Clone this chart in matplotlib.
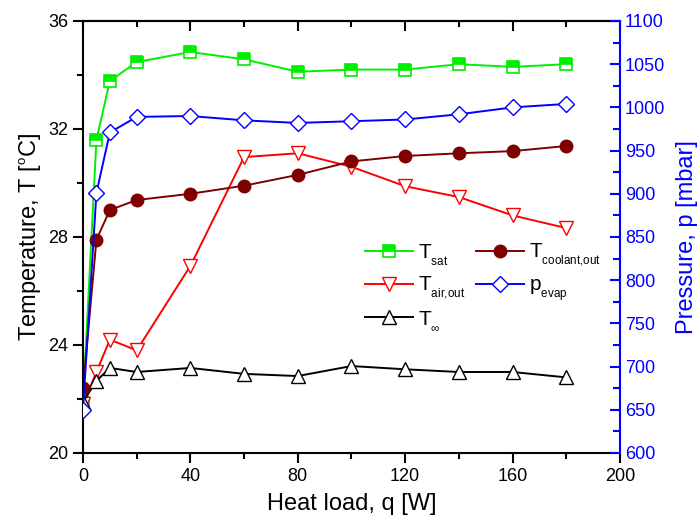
import matplotlib
matplotlib.use("Agg")
import matplotlib.pyplot as plt
from matplotlib.ticker import MultipleLocator, NullFormatter
try:
    import matplotlib._mathtext as _mt
    _mt.SHRINK_FACTOR = 0.56
    _mt.FontConstantsBase.sub1 = 0.7
except Exception:
    pass

plt.rcParams['font.family'] = ['Liberation Sans', 'DejaVu Sans']
plt.rcParams['mathtext.fontset'] = 'custom'
plt.rcParams['mathtext.rm'] = 'Liberation Sans'
plt.rcParams['mathtext.it'] = 'Liberation Sans'
plt.rcParams['mathtext.bf'] = 'Liberation Sans:bold'

q = [0, 5, 10, 20, 40, 60, 80, 100, 120, 140, 160, 180]
T_sat = [21.9, 31.6, 33.78, 34.48, 34.85, 34.58, 34.12, 34.2, 34.2, 34.4, 34.3, 34.4]
T_coolant = [22.4, 27.9, 29.0, 29.37, 29.6, 29.9, 30.3, 30.8, 31.0, 31.1, 31.18, 31.37]
T_air = [21.8, 23.0, 24.2, 23.8, 26.93, 30.96, 31.1, 30.6, 29.88, 29.48, 28.8, 28.33]
T_inf = [21.9, 22.67, 23.15, 23.0, 23.15, 22.93, 22.85, 23.22, 23.1, 23.0, 23.0, 22.8]
p_evap = [650, 901, 971, 989, 990, 985, 982, 984, 986, 992, 1000, 1004]

fig = plt.figure(figsize=(7, 5.17), dpi=100)
ax = fig.add_axes([0.1186, 0.1238, 0.767, 0.8356])
ax2 = ax.twinx()

lw = 1.4
h1, = ax.plot(q, T_sat, color='#00ee00', lw=lw, marker='s', ms=8, fillstyle='top',
              markerfacecolor='#00ee00', markerfacecoloralt='white', markeredgecolor='#00ee00',
              markeredgewidth=1.2, label=r'T$_{\text{sat}}$')
h2, = ax.plot(q, T_air, color='#ff0000', lw=lw, marker='v', ms=10, markerfacecolor='white',
              markeredgecolor='#ff0000', markeredgewidth=1.0, label=r'T$_{\text{air,out}}$')
h3, = ax.plot(q, T_inf, color='black', lw=lw, marker='^', ms=10, markerfacecolor='white',
              markeredgecolor='black', markeredgewidth=1.0, label=r'T$_{\infty}$')
h4, = ax.plot(q, T_coolant, color='#800000', lw=lw, marker='o', ms=9, markerfacecolor='#800000',
              markeredgecolor='#800000', label=r'T$_{\text{coolant,out}}$')
h5, = ax2.plot(q, p_evap, color='#0000ff', lw=lw, marker='D', ms=8, markerfacecolor='white',
               markeredgecolor='#0000ff', markeredgewidth=1.0, label=r'p$_{\text{evap}}$')

ax.set_xlim(0, 200)
ax.set_ylim(20, 36)
ax2.set_ylim(600, 1100)

ax.xaxis.set_major_locator(MultipleLocator(40))
ax.xaxis.set_minor_locator(MultipleLocator(20))
ax.yaxis.set_major_locator(MultipleLocator(4))
ax.yaxis.set_minor_locator(MultipleLocator(2))
ax2.yaxis.set_major_locator(MultipleLocator(50))
ax2.yaxis.set_minor_locator(MultipleLocator(25))

ax.tick_params(axis='both', which='major', labelsize=13, length=7, width=1.5, direction='out')
ax.tick_params(axis='both', which='minor', length=4, width=1.5, direction='out')
ax.tick_params(axis='x', which='both', top=False)
ax2.tick_params(axis='y', which='major', labelsize=13, length=7, width=1.5, direction='in',
                colors='#0000ff')
ax2.tick_params(axis='y', which='minor', length=5, width=1.5, direction='in', colors='#0000ff')

secx = ax.secondary_xaxis('top')
secx.xaxis.set_major_locator(MultipleLocator(40))
secx.xaxis.set_minor_locator(MultipleLocator(20))
secx.xaxis.set_major_formatter(NullFormatter())
secx.tick_params(axis='x', which='major', length=7, width=1.5, direction='in')
secx.tick_params(axis='x', which='minor', length=4, width=1.5, direction='in')
secx.spines['top'].set_linewidth(1.5)

for s in ['left', 'bottom', 'top']:
    ax.spines[s].set_linewidth(1.5)
ax2.spines['right'].set_linewidth(1.5)
ax2.spines['right'].set_color('#0000ff')
for s in ['left', 'bottom', 'top']:
    ax2.spines[s].set_visible(False)
ax.spines['right'].set_visible(False)

ax.set_xlabel('Heat load, q [W]', fontsize=17, labelpad=6)
ax.set_ylabel(r'Temperature, T [$^{\text{o}}$C]', fontsize=17)
ax2.set_ylabel('Pressure, p [mbar]', fontsize=17, color='#0000ff', labelpad=8)

leg = ax.legend(handles=[h1, h2, h3, h4, h5], ncol=2, frameon=False, fontsize=15,
                loc='upper left', bbox_to_anchor=(0.525, 0.488), handlelength=2.3,
                handletextpad=0.25, columnspacing=0.5, labelspacing=0.35, borderpad=0,
                borderaxespad=0)
leg.set_zorder(5)

fig.savefig('out.png', dpi=100)
